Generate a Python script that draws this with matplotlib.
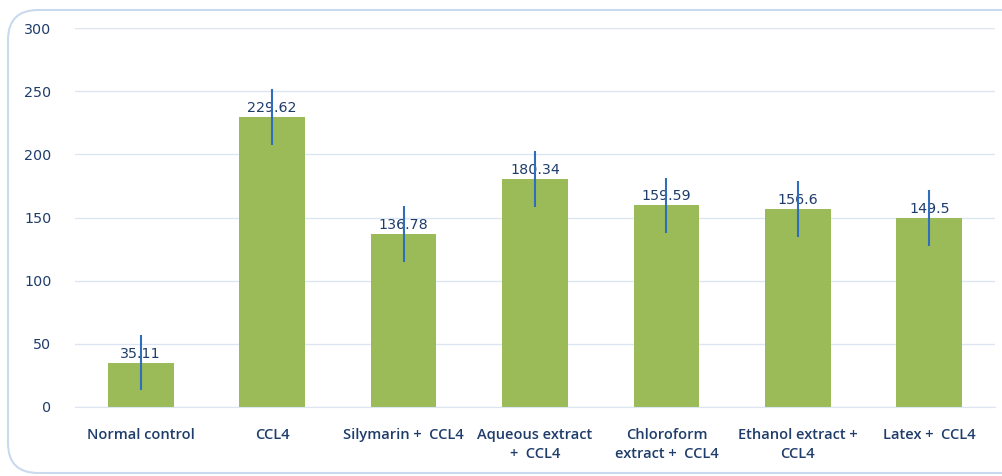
import matplotlib.pyplot as plt
from matplotlib.patches import FancyBboxPatch

# data
groups = ["Normal control", "CCL4", "Silymarin +  CCL4", "Aqueous extract\n+  CCL4",
          "Chloroform\nextract +  CCL4", "Ethanol extract +\nCCL4", "Latex +  CCL4"]
values = [35.11, 229.62, 136.78, 180.34, 159.59, 156.6, 149.5]
errors = [22, 22, 22, 22, 22, 22, 22]
labels = ["35.11", "229.62", "136.78", "180.34", "159.59", "156.6", "149.5"]

text_col = "#1F3D6B"
plt.rcParams["font.family"] = ["Open Sans", "DejaVu Sans"]

fig = plt.figure(figsize=(10.02, 4.76), dpi=100)

# rounded frame around the chart
frame = FancyBboxPatch((8 / 1002, 3 / 476), 1.05, 463 / 476,
                       boxstyle="round,pad=0,rounding_size=0.03",
                       transform=fig.transFigure, fill=False,
                       edgecolor="#C9DAEE", linewidth=1.5, mutation_aspect=2.1)
fig.patches.append(frame)

ax = fig.add_axes([75 / 1002, 1 - 407 / 476, 920 / 1002, 379 / 476])
x = range(len(groups))
ax.bar(x, values, width=0.5, color="#9BBB59", zorder=2)
ax.errorbar(x, values, yerr=errors, fmt="none", ecolor="#2F6EBA",
            elinewidth=1.5, capsize=0, zorder=4)

for xi, v, lab in zip(x, values, labels):
    ax.text(xi, v + 4, lab, ha="center", va="baseline", fontsize=10.3,
            family="DejaVu Sans", color=text_col, zorder=3)

ax.set_xlim(-0.5, len(groups) - 0.5)
ax.set_ylim(0, 300)
ax.set_yticks(range(0, 301, 50))
ax.grid(axis="y", color="#DCE6F2", linewidth=1, zorder=0)
ax.set_axisbelow(True)
for s in ["top", "right", "left"]:
    ax.spines[s].set_visible(False)
ax.spines["bottom"].set_color("#DCE6F2")

ax.set_xticks(list(x))
ax.set_xticklabels(groups, fontsize=10.5, fontweight="semibold", color=text_col,
                   linespacing=1.5, va="top")
ax.tick_params(axis="x", length=0, pad=15)
ax.tick_params(axis="y", length=0, pad=17, labelsize=10.3, labelcolor=text_col)
for t in ax.get_yticklabels():
    t.set_family("DejaVu Sans")

fig.savefig("out.png", dpi=100)
